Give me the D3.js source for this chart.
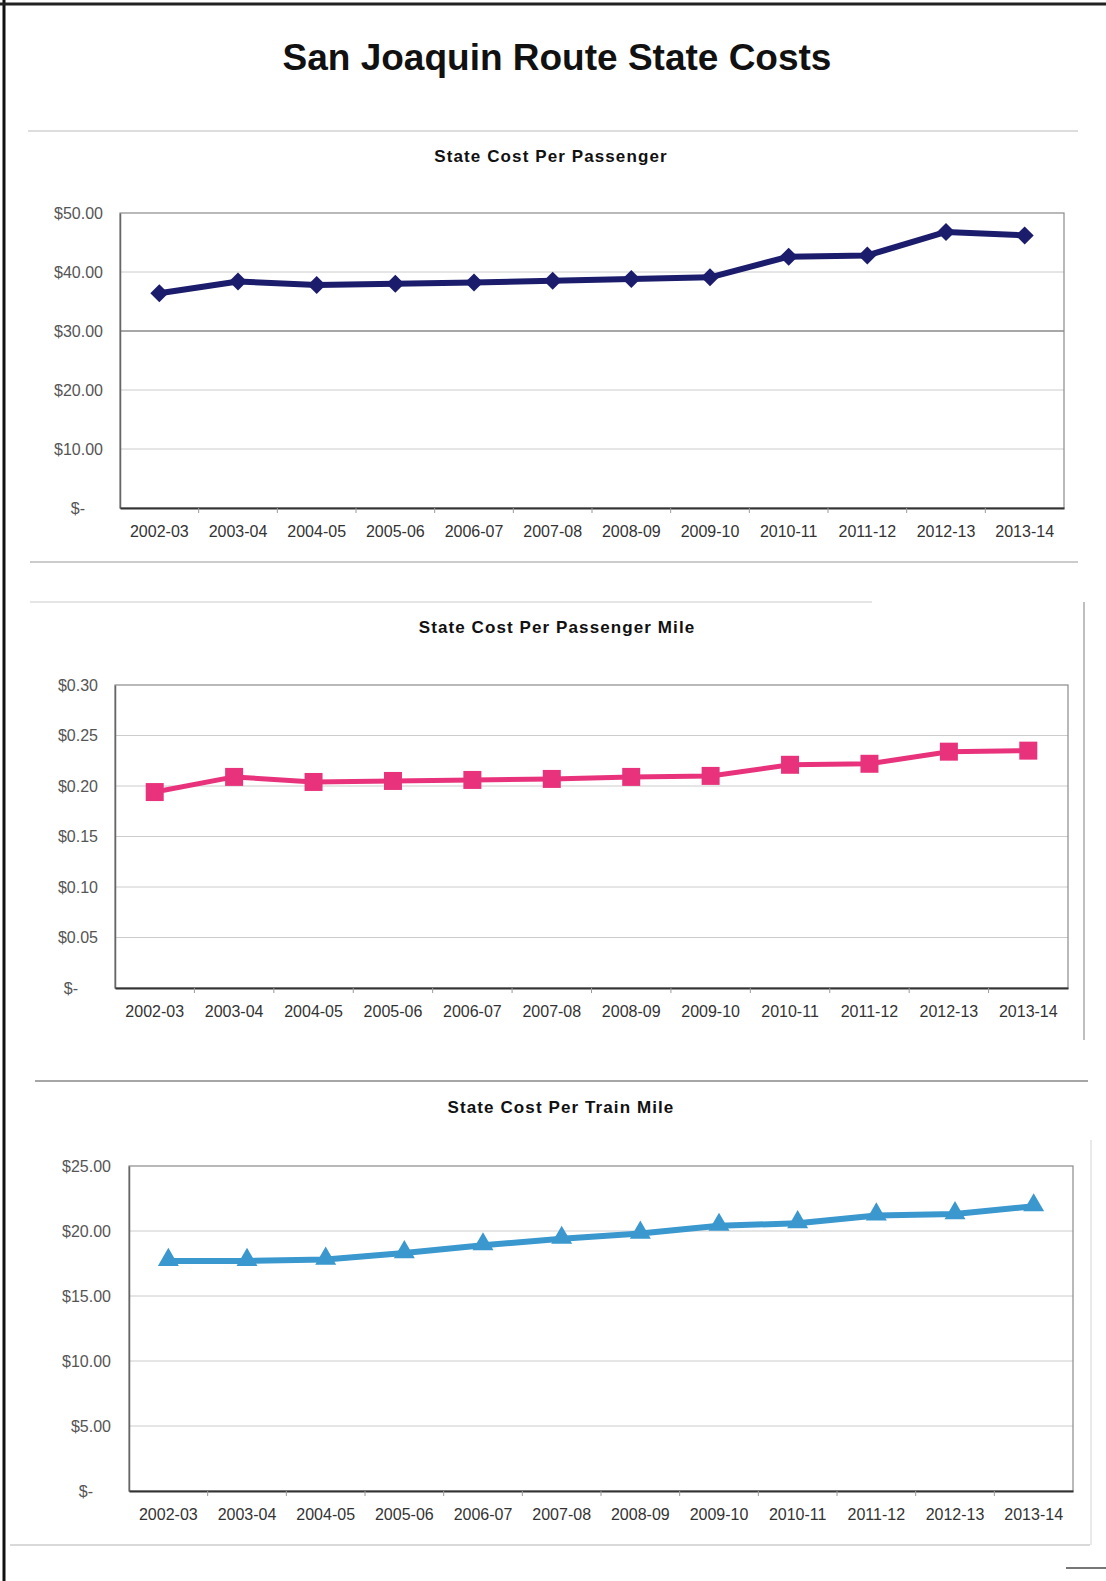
<!DOCTYPE html>
<html>
<head>
<meta charset="utf-8">
<script src="https://cdn.jsdelivr.net/npm/d3@7/dist/d3.min.js"></script>
<style>
  html, body { margin: 0; padding: 0; background: #fff; }
  svg { display: block; }
  text { font-family: "Liberation Sans", Arial, Helvetica, sans-serif; }
</style>
</head>
<body>
<svg id="chart" width="1106" height="1581"></svg>
<script>
// ---- data ----
const mainTitle = "San Joaquin Route State Costs";
const categories = ["2002-03","2003-04","2004-05","2005-06","2006-07","2007-08","2008-09","2009-10","2010-11","2011-12","2012-13","2013-14"];

const titlePassenger = "State Cost Per Passenger";
const costPerPassenger = [36.4, 38.4, 37.8, 38.0, 38.2, 38.5, 38.8, 39.1, 42.6, 42.8, 46.8, 46.2];
const ticksPassenger = [0, 10, 20, 30, 40, 50];
const tickLabelsPassenger = ["$-", "$10.00", "$20.00", "$30.00", "$40.00", "$50.00"];

const titlePassengerMile = "State Cost Per Passenger Mile";
const costPerPassengerMile = [0.194, 0.209, 0.204, 0.205, 0.206, 0.207, 0.209, 0.210, 0.221, 0.222, 0.234, 0.235];
const ticksPassengerMile = [0, 0.05, 0.10, 0.15, 0.20, 0.25, 0.30];
const tickLabelsPassengerMile = ["$-", "$0.05", "$0.10", "$0.15", "$0.20", "$0.25", "$0.30"];

const titleTrainMile = "State Cost Per Train Mile";
const costPerTrainMile = [17.7, 17.7, 17.8, 18.3, 18.9, 19.4, 19.8, 20.4, 20.6, 21.2, 21.3, 21.9];
const ticksTrainMile = [0, 5, 10, 15, 20, 25];
const tickLabelsTrainMile = ["$-", "$5.00", "$10.00", "$15.00", "$20.00", "$25.00"];

// ---- layout / style ----
const panels = [
  { title: titlePassenger, values: costPerPassenger, ticks: ticksPassenger, labels: tickLabelsPassenger,
    max: 50, left: 120, right: 1064, top: 213, bottom: 508, titleX: 551, titleY: 162, labelGap: 17, zeroShift: -18,
    color: "#1c1c6c", lineW: 6, symbol: "diamond", msize: 18, darkGrid: 30 },
  { title: titlePassengerMile, values: costPerPassengerMile, ticks: ticksPassengerMile, labels: tickLabelsPassengerMile,
    max: 0.30, left: 115, right: 1068, top: 685, bottom: 988, titleX: 557, titleY: 633, labelGap: 17, zeroShift: -20,
    color: "#e8337c", lineW: 5, symbol: "square", msize: 18, darkGrid: null },
  { title: titleTrainMile, values: costPerTrainMile, ticks: ticksTrainMile, labels: tickLabelsTrainMile,
    max: 25, left: 129, right: 1073, top: 1166, bottom: 1491, titleX: 561, titleY: 1113, labelGap: 18, zeroShift: -18,
    color: "#3a98cf", lineW: 6, symbol: "triangle", msize: 21, darkGrid: null }
];

const svg = d3.select("#chart");

// page border & separators
const deco = svg.append("g");
deco.append("line").attr("x1", 4).attr("x2", 4).attr("y1", 0).attr("y2", 1581).attr("stroke", "#111").attr("stroke-width", 3);
deco.append("line").attr("x1", 0).attr("x2", 1106).attr("y1", 4).attr("y2", 4).attr("stroke", "#222").attr("stroke-width", 3);
const seps = [
  [28, 1078, 131, 131, "#ddd", 2],
  [30, 1078, 562, 562, "#bbb", 1.5],
  [30, 872, 602, 602, "#ddd", 1.5],
  [1084, 1084, 602, 1040, "#aaa", 1.5],
  [35, 1088, 1081, 1081, "#888", 1.5],
  [1091, 1091, 1140, 1545, "#e2e2e2", 1.5],
  [10, 1090, 1545, 1545, "#ccc", 1.5],
  [1066, 1106, 1568, 1568, "#777", 2]
];
seps.forEach(s => deco.append("line").attr("x1", s[0]).attr("x2", s[1]).attr("y1", s[2]).attr("y2", s[3])
  .attr("stroke", s[4]).attr("stroke-width", s[5]));

svg.append("text").attr("x", 557).attr("y", 70).attr("text-anchor", "middle")
  .attr("font-size", 37).attr("font-weight", "bold").attr("fill", "#111").text(mainTitle);

panels.forEach(p => {
  const g = svg.append("g");
  const x = d3.scaleBand().domain(categories).range([p.left, p.right]);
  const y = d3.scaleLinear().domain([0, p.max]).range([p.bottom, p.top]);

  g.append("text").attr("x", p.titleX).attr("y", p.titleY).attr("text-anchor", "middle")
    .attr("font-size", 17).attr("font-weight", "bold").attr("letter-spacing", 1.1).attr("fill", "#111").text(p.title);

  // gridlines
  g.append("g").selectAll("line").data(p.ticks.filter(t => t > 0 && t < p.max)).join("line")
    .attr("x1", p.left).attr("x2", p.right).attr("y1", d => y(d)).attr("y2", d => y(d))
    .attr("stroke", d => d === p.darkGrid ? "#8a8a8a" : "#cccccc").attr("stroke-width", d => d === p.darkGrid ? 1.5 : 1);

  // plot border
  g.append("rect").attr("x", p.left).attr("y", p.top).attr("width", p.right - p.left).attr("height", p.bottom - p.top)
    .attr("fill", "none").attr("stroke", "#8a8a8a").attr("stroke-width", 1.2);

  // y axis
  const yAxis = d3.axisLeft(y).tickValues(p.ticks).tickSize(0).tickPadding(p.labelGap)
    .tickFormat((d, i) => p.labels[i]);
  const ya = g.append("g").attr("transform", `translate(${p.left},0)`).call(yAxis);
  ya.select(".domain").attr("stroke", "#666").attr("stroke-width", 1.5);
  ya.selectAll("text").attr("font-size", 16).attr("fill", "#555").attr("font-family", "Liberation Sans, Arial, sans-serif")
    .attr("dx", d => d === 0 ? p.zeroShift : 0);

  // x axis
  const xAxis = d3.axisBottom(x).tickSize(0).tickPadding(18);
  const xa = g.append("g").attr("transform", `translate(0,${p.bottom})`).call(xAxis);
  xa.select(".domain").attr("stroke", "#333").attr("stroke-width", 1.8);
  xa.selectAll("text").attr("font-size", 16).attr("fill", "#333").attr("font-family", "Liberation Sans, Arial, sans-serif");
  // category boundary ticks
  g.append("g").selectAll("line").data(categories.slice(1)).join("line")
    .attr("x1", d => x(d)).attr("x2", d => x(d)).attr("y1", p.bottom).attr("y2", p.bottom + 5)
    .attr("stroke", "#999").attr("stroke-width", 1);

  // line
  const line = d3.line().x((d, i) => x(categories[i]) + x.bandwidth() / 2).y(d => y(d));
  g.append("path").datum(p.values).attr("d", line).attr("fill", "none")
    .attr("stroke", p.color).attr("stroke-width", p.lineW).attr("stroke-linejoin", "round");

  // markers
  let sym, rot = 0, area;
  if (p.symbol === "diamond") { sym = d3.symbolSquare; rot = 45; area = (p.msize / Math.SQRT2) ** 2; }
  else if (p.symbol === "square") { sym = d3.symbolSquare; area = p.msize * p.msize; }
  else { sym = d3.symbolTriangle; area = Math.sqrt(3) / 4 * p.msize * p.msize; }
  const sPath = d3.symbol().type(sym).size(area)();
  g.append("g").selectAll("path").data(p.values).join("path")
    .attr("d", sPath)
    .attr("transform", (d, i) => `translate(${x(categories[i]) + x.bandwidth() / 2},${y(d) + (p.symbol === "triangle" ? -1 : 0)}) rotate(${rot})`)
    .attr("fill", p.color);
});
</script>
</body>
</html>
